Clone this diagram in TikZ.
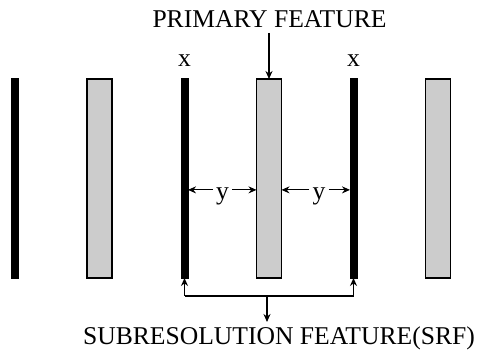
\documentclass[tikz,border=0pt]{standalone}
\usepackage{fontspec}
\setmainfont{Liberation Serif}
\usetikzlibrary{arrows.meta,calc}
\begin{document}
\begin{tikzpicture}[x=1pt,y=-1pt,
  blackbar/.style={draw=black,fill=black,line width=0.6pt,minimum width=7pt,minimum height=200pt,inner sep=0pt,outer sep=0pt},
  graybar/.style={draw=black,fill=black!20,line width=1.1pt,minimum width=25pt,minimum height=199pt,inner sep=0pt,outer sep=0pt},
  lbl/.style={font=\fontsize{25.6}{29}\selectfont,inner sep=0pt,anchor=base},
  arr/.style={line width=1.2pt,-{Stealth[length=8pt,width=7pt]}}
]
\useasboundingbox (0,0) rectangle (477,352);
\node[blackbar] (b1) at (14.5,178) {};
\node[graybar]  (g1) at (99.5,178.5) {};
\node[blackbar] (b2) at (184.5,178) {};
\node[graybar]  (g2) at (269,178.5) {};
\node[blackbar] (b3) at (353.5,178) {};
\node[graybar]  (g3) at (438,178.5) {};

\node[lbl] (pf) at (269.5,28) {PRIMARY FEATURE};
\node[lbl] (x1) at (184.5,67) {x};
\node[lbl] (x2) at (353.5,67) {x};
\node[lbl] (srf) at (279,345) {SUBRESOLUTION FEATURE(SRF)};

\coordinate (pft) at (269,33);
\draw[arr] (pft) -- (g2.north);

\node[lbl,inner xsep=3pt] (y1) at (222.5,200) {y};
\node[lbl,inner xsep=3pt] (y2) at (319,200) {y};
\draw[arr] ($(y1.west)+(0,-7)$) -- (b2.east |- {$(y1.west)+(0,-7)$});
\draw[arr] ($(y1.east)+(0,-7)$) -- (g2.west |- {$(y1.east)+(0,-7)$});
\draw[arr] ($(y2.west)+(0,-7)$) -- (g2.east |- {$(y2.west)+(0,-7)$});
\draw[arr] ($(y2.east)+(0,-7)$) -- (b3.west |- {$(y2.east)+(0,-7)$});

\coordinate (cl) at (184.5,296);
\coordinate (cr) at (353.5,296);
\coordinate (cm) at (267,296);
\coordinate (ce) at (267,322);
\draw[line width=1.2pt] (cl) -- (cr);
\draw[arr] (cl) -- (b2.south);
\draw[arr] (cr) -- (b3.south);
\draw[arr] (cm) -- (ce);
\end{tikzpicture}
\end{document}
